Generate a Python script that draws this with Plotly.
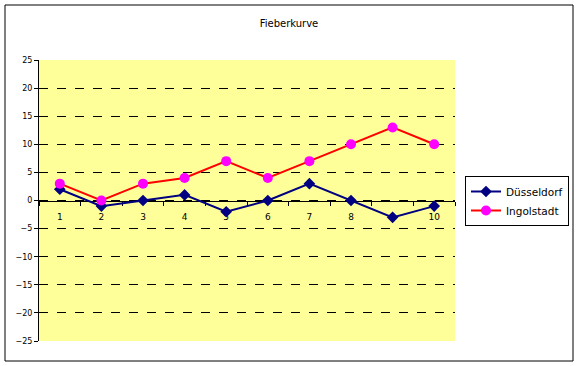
import plotly.graph_objects as go

categories = ["1", "2", "3", "4", "5", "6", "7", "8", "9", "10"]
duesseldorf = [2, -1, 0, 1, -2, 0, 3, 0, -3, -1]
ingolstadt = [3, 0, 3, 4, 7, 4, 7, 10, 13, 10]
y_ticks = [-25, -20, -15, -10, -5, 0, 5, 10, 15, 20, 25]

L, R, T, B = 39, 123, 60, 25
W, H = 578, 366
pw, ph = W - L - R, H - T - B

def px_x(x):
    return (x - L) / pw

def px_y(y):
    return (H - y - B) / ph

fig = go.Figure()
fig.add_trace(go.Scatter(
    x=categories, y=duesseldorf, name="Düsseldorf", mode="lines+markers",
    line=dict(color="#000080", width=2),
    marker=dict(symbol="diamond", size=9, color="#000080"),
))
fig.add_trace(go.Scatter(
    x=categories, y=ingolstadt, name="Ingolstadt", mode="lines+markers",
    line=dict(color="#FF0000", width=2),
    marker=dict(symbol="circle", size=10, color="#FF00FF"),
))

fig.update_layout(
    width=W, height=H,
    margin=dict(l=L, r=R, t=T, b=B, autoexpand=False),
    paper_bgcolor="white",
    plot_bgcolor="#FFFF99",
    font=dict(family="DejaVu Sans", size=9, color="black"),
    title=dict(text="Fieberkurve", x=289 / W, xanchor="center",
               y=1 - 23 / H, yanchor="middle",
               font=dict(family="DejaVu Sans", size=10, color="black")),
    showlegend=True,
    legend=dict(x=px_x(465), y=px_y(176), xanchor="left", yanchor="top",
                bordercolor="black", borderwidth=1, bgcolor="white",
                font=dict(family="DejaVu Sans", size=10.5), tracegroupgap=0,
                itemwidth=30),
    xaxis=dict(type="category", anchor="free", position=0.5,
               showline=True, linecolor="black", linewidth=1,
               ticks="outside", tickson="boundaries", ticklen=4, tickcolor="black",
               showgrid=False, zeroline=False, range=[-0.5, 9.5],
               ticklabelstandoff=8, layer="below traces",
               tickfont=dict(size=9)),
    yaxis=dict(range=[-25, 25], tickvals=y_ticks, ticks="outside", ticklen=4,
               tickcolor="black", showline=True, linecolor="black", linewidth=1,
               showgrid=True, gridcolor="black", griddash="dash", gridwidth=1,
               zeroline=False, tickfont=dict(size=8)),
    shapes=[dict(type="rect", xref="paper", yref="paper",
                 x0=px_x(5), x1=px_x(573), y0=px_y(361), y1=px_y(5),
                 line=dict(color="black", width=1), layer="below")],
)

fig.write_html("out.html", config={"displayModeBar": False},
               post_script="document.body.style.margin='0';")
